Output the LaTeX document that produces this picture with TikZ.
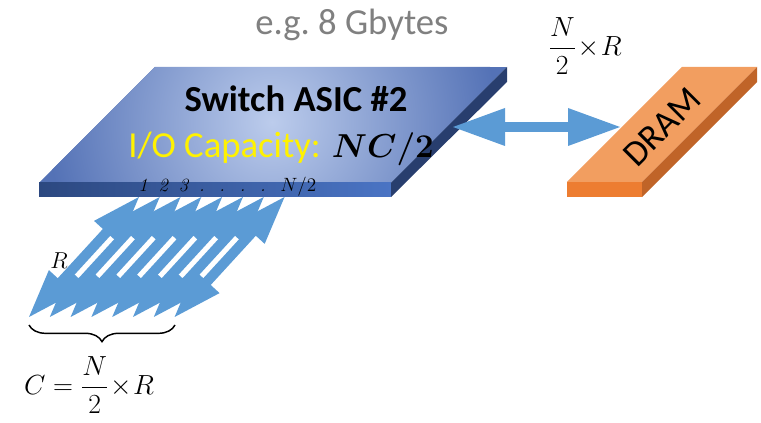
\documentclass[tikz,border=0pt]{standalone}
\usepackage{amsmath,bm}
\usepackage{fontspec}
\newfontfamily\carlito{Carlito}
\usetikzlibrary{arrows.meta,decorations.pathreplacing}

\definecolor{asiclight}{RGB}{188,204,236}
\definecolor{asicdark}{RGB}{84,114,182}
\definecolor{frontleft}{RGB}{44,72,128}
\definecolor{frontright}{RGB}{74,116,196}
\definecolor{asicside}{RGB}{40,62,110}
\definecolor{linkblue}{RGB}{91,155,213}
\definecolor{dramtop}{RGB}{242,158,96}
\definecolor{dramfront}{RGB}{237,125,49}
\definecolor{dramside}{RGB}{192,100,40}
\definecolor{memgray}{RGB}{128,128,128}

\begin{document}
\begin{tikzpicture}[
    x=0.75pt,y=-0.75pt,
    big/.style={font=\carlito\fontsize{27.5}{33}\selectfont,inner sep=0pt},
    eqn/.style={font=\fontsize{21}{25}\selectfont,inner sep=0pt},
    port/.style={font=\fontsize{14}{16}\selectfont,inner sep=0pt,anchor=base west},
    link/.style={linkblue,line width=7.5pt,
      {Triangle[length=39pt,width=28.5pt,line width=0pt]}-{Triangle[length=39pt,width=28.5pt,line width=0pt]}},
    brc/.style={decorate,decoration={brace,mirror,amplitude=12.5pt},line width=1.1pt}
]
\useasboundingbox (0,0) rectangle (761,423);

% lanes: N/2 block arrows of rate R
\foreach \k in {0,...,7}
  \fill[linkblue,shift={(29+20.8*\k,317)},rotate=47.5]
    (0,0) -- (48,17) -- (48,5) -- (114.8,5) -- (114.8,17) -- (162.8,0)
    -- (114.8,-17) -- (114.8,-5) -- (48,-5) -- (48,-17) -- cycle;

% switch slab
\begin{scope}
  \clip (155,67) -- (507,67) -- (391,183) -- (39,183) -- cycle;
  \fill[asicdark] (39,67) rectangle (507,183);
  \shade[inner color=asiclight,outer color=asicdark] (272,122) circle (225);
\end{scope}
\shade[left color=frontleft,right color=frontright]
  (39,183) rectangle (391,197);
\fill[asicside] (391,183) -- (507,67) -- (507,82) -- (391,197) -- cycle;

% dram slab
\fill[dramtop]   (567,182) -- (642,182) -- (757,67) -- (682,67) -- cycle;
\fill[dramfront] (567,182) rectangle (642,197);
\fill[dramside]  (642,182) -- (757,67) -- (757,82) -- (642,197) -- cycle;

\node[big,text=memgray,anchor=base] (mem) at (352,35) {e.g.\ 8 Gbytes};
\node[big,anchor=base] (asic) at (296,112) {\bfseries Switch ASIC \#2};
\node[big,anchor=base west] (iocap) at (128,158)
  {\textcolor{yellow}{I/O Capacity:} {\fontsize{25}{30}\selectfont$\bm{NC/2}$}};
\node[big,font=\carlito\fontsize{27}{32}\selectfont,rotate=45] (dram) at (662,127) {DRAM};

\foreach \lab [count=\k from 0] in {1,2,3,.,.,.,.,$N/2$}
  \node[port] (port\k) at (138+20.3*\k,192) {\textit{\lab}};

\coordinate (asicport) at (453,127);
\coordinate (dramport) at (620,127);
\draw[link] (asicport) -- (dramport);

\node[eqn] (rate) at (585,46) {$\dfrac{N}{2}\!\times\! R$};
\node[eqn,font=\fontsize{16.5}{20}\selectfont] (rlbl) at (59,261) {$R$};

\coordinate (bl) at (29,325);
\coordinate (br) at (175,325);
\draw[brc] (bl) -- (br);
\node[eqn,font=\fontsize{22}{26}\selectfont] (cap) at (89,385) {$C=\dfrac{N}{2}\!\times\! R$};
\end{tikzpicture}
\end{document}
